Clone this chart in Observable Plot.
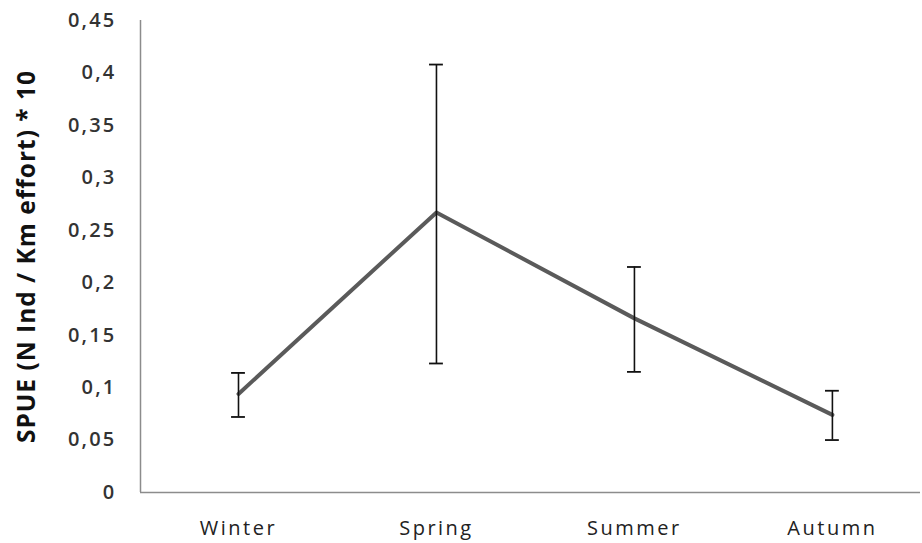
<!DOCTYPE html>
<html><head><meta charset="utf-8">
<script src="https://cdn.jsdelivr.net/npm/d3@7"></script>
<script src="https://cdn.jsdelivr.net/npm/@observablehq/plot@0.6"></script>
<style>
body{margin:0;background:#fff;} svg{display:block;}
g[aria-label="y-axis tick label"] text{letter-spacing:2.2px;}
g[aria-label="x-axis tick label"] text{letter-spacing:2.5px;}
g.ytitle text{letter-spacing:1px;}
</style>
</head><body><div id="chart"></div>
<script>
const seasons = ["Winter", "Spring", "Summer", "Autumn"];
const spue = [0.094, 0.267, 0.166, 0.074];
const errLow = [0.072, 0.123, 0.115, 0.050];
const errHigh = [0.114, 0.408, 0.215, 0.097];
const yTicks = [0, 0.05, 0.1, 0.15, 0.2, 0.25, 0.3, 0.35, 0.4, 0.45];

const data = seasons.map((s, i) => ({i, s, v: spue[i], lo: errLow[i], hi: errHigh[i]}));
const font = "'Open Sans', sans-serif";
const fmt = d => String(d).replace(".", ",");
const cap = 0.035;

const plot = Plot.plot({
  width: 922, height: 543,
  marginLeft: 140, marginRight: 2, marginTop: 20, marginBottom: 51,
  style: {fontFamily: font, background: "#fff"},
  x: {type: "linear", domain: [-0.495, 3.445], axis: null},
  y: {domain: [0, 0.45], axis: null},
  marks: [
    Plot.ruleX([-0.495], {stroke: "#8c8c8c", strokeWidth: 1.5}),
    Plot.ruleY([0], {stroke: "#8c8c8c", strokeWidth: 1.5}),
    Plot.axisY(yTicks, {tickSize: 0, tickPadding: 24, tickFormat: fmt, fontSize: 20, fontWeight: 600, fill: "#333", label: null}),
    Plot.axisX(seasons.map((s, i) => i), {tickSize: 0, tickPadding: 28, tickFormat: i => seasons[i], fontSize: 20, fill: "#222", label: null}),
    Plot.text(["SPUE (N Ind / Km effort) * 10"], {className: "ytitle", frameAnchor: "left", textAnchor: "middle", dx: -113, rotate: -90, fontSize: 24.5, fontWeight: "bold", fill: "#111"}),
    Plot.line(data, {x: "i", y: "v", stroke: "#5a5a5a", strokeWidth: 4}),
    Plot.ruleX(data, {x: "i", y1: "lo", y2: "hi", stroke: "#111", strokeWidth: 1.6}),
    Plot.ruleY(data, {y: "lo", x1: d => d.i - cap, x2: d => d.i + cap, stroke: "#111", strokeWidth: 1.8}),
    Plot.ruleY(data, {y: "hi", x1: d => d.i - cap, x2: d => d.i + cap, stroke: "#111", strokeWidth: 1.8})
  ]
});
document.getElementById("chart").append(plot);
</script></body></html>
